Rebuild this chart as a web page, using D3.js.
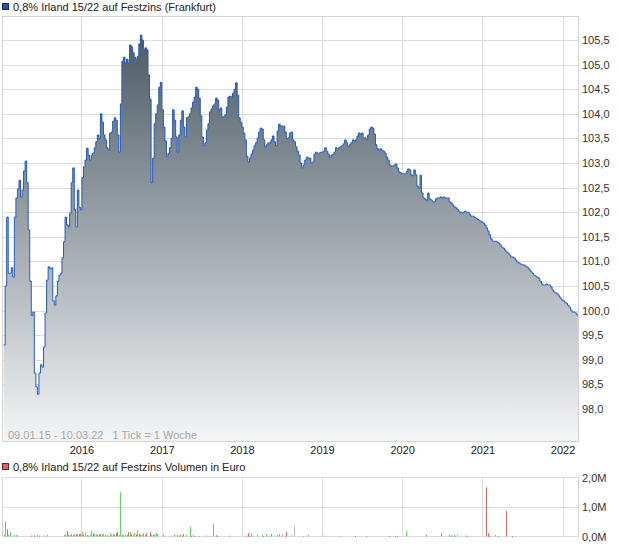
<!DOCTYPE html>
<meta charset="utf-8">
<script src="https://d3js.org/d3.v7.min.js"></script>
<style>
  body { margin: 0; background: #fff; }
  svg { display: block; font-family: Arial, "Liberation Sans", sans-serif; }
</style>
<body>
<div id="chart"></div>
<script>

// weekly closing prices, 09.01.15 - 10.03.22 (1 Tick = 1 Woche)
var startDate = new Date(2015, 0, 9),
    endDate = new Date(2022, 2, 10)

var prices = [
  99.3, 100.5, 101.9, 100.76, 100.76, 100.87, 100.68, 101.9, 102.29, 102.47,
  102.65, 102.31, 102.45, 102.84, 103.04, 102.6, 101.64, 100.6, 99.9, 99.97,
  98.73, 98.45, 98.3, 98.73, 98.9, 98.85, 99.26, 99.95, 100.62, 100.89,
  100.85, 100.87, 100.2, 100.11, 100.3, 100.6, 100.72, 100.75, 101.07, 101.4,
  101.9, 101.74, 101.7, 101.98, 102.6, 102.9, 102.05, 101.7, 102.45, 102.1,
  102.05, 102.7, 102.92, 103.06, 103.3, 103.16, 103.06, 103.16, 103.2, 103.31,
  103.43, 103.57, 103.5, 104.0, 103.83, 103.57, 103.47, 103.31, 103.26, 103.61,
  103.63, 103.85, 103.92, 103.87, 103.57, 103.22, 104.2, 105.07, 105.15, 105.03,
  105.11, 105.03, 105.4, 105.36, 105.24, 105.15, 105.11, 105.17, 105.42, 105.6,
  105.5, 105.3, 105.34, 105.3, 104.79, 104.3, 102.6, 103.1, 103.8, 104.0,
  104.18, 104.54, 104.64, 104.08, 103.73, 103.45, 103.14, 103.2, 103.31, 103.5,
  104.08, 103.87, 103.53, 103.22, 103.57, 103.87, 104.06, 103.73, 103.53, 103.92,
  103.94, 104.0, 104.12, 104.24, 104.34, 104.54, 104.5, 104.32, 103.96, 103.53,
  103.35, 103.41, 103.67, 103.8, 104.04, 104.1, 104.16, 104.2, 104.32, 104.28,
  104.08, 104.12, 103.94, 103.94, 103.98, 104.14, 104.34, 104.36, 104.34, 104.42,
  104.5, 104.63, 104.38, 103.92, 103.83, 103.73, 103.61, 103.47, 103.14, 103.02,
  103.1, 103.18, 103.26, 103.35, 103.41, 103.51, 103.63, 103.71, 103.69, 103.47,
  103.33, 103.37, 103.41, 103.41, 103.47, 103.55, 103.43, 103.35, 103.65, 103.79,
  103.75, 103.75, 103.75, 103.63, 103.49, 103.51, 103.61, 103.63, 103.47, 103.43,
  103.33, 103.24, 103.16, 103.0, 102.9, 102.96, 103.06, 103.12, 103.1, 103.1,
  103.0, 103.02, 103.18, 103.22, 103.2, 103.2, 103.22, 103.22, 103.24, 103.31,
  103.24, 103.18, 103.12, 103.16, 103.18, 103.22, 103.31, 103.29, 103.31, 103.33,
  103.35, 103.39, 103.47, 103.41, 103.33, 103.37, 103.41, 103.47, 103.45, 103.47,
  103.55, 103.61, 103.59, 103.61, 103.51, 103.51, 103.47, 103.57, 103.69, 103.73,
  103.71, 103.59, 103.37, 103.29, 103.26, 103.29, 103.26, 103.24, 103.2, 103.12,
  103.06, 102.96, 102.94, 102.94, 102.96, 102.98, 102.9, 102.82, 102.8, 102.78,
  102.78, 102.78, 102.82, 102.88, 102.86, 102.76, 102.74, 102.86, 102.76, 102.53,
  102.49, 102.75, 102.39, 102.29, 102.27, 102.23, 102.39, 102.27, 102.25, 102.21,
  102.21, 102.27, 102.29, 102.29, 102.31, 102.29, 102.31, 102.29, 102.29, 102.29,
  102.21, 102.19, 102.15, 102.11, 102.09, 102.06, 102.02, 102.0, 101.98, 102.0,
  102.02, 102.0, 102.0, 101.96, 101.92, 101.92, 101.9, 101.88, 101.86, 101.84,
  101.82, 101.8, 101.78, 101.74, 101.68, 101.62, 101.54, 101.46, 101.41, 101.41,
  101.41, 101.39, 101.37, 101.33, 101.29, 101.27, 101.23, 101.19, 101.17, 101.13,
  101.09, 101.09, 101.07, 101.03, 100.99, 100.97, 100.95, 100.93, 100.93, 100.91,
  100.89, 100.87, 100.83, 100.79, 100.76, 100.72, 100.70, 100.68, 100.66, 100.6,
  100.54, 100.52, 100.52, 100.54, 100.52, 100.52, 100.48, 100.42, 100.38, 100.36,
  100.34, 100.3, 100.26, 100.22, 100.2, 100.17, 100.15, 100.11, 100.07, 100.01,
  99.97, 99.97, 99.95, 99.91
]

// volume (Mio Euro): week index, value, direction (u = up, d = down, n = unchanged)
var volWeeks = [0, 1, 2, 3, 4, 7, 8, 9, 18, 20, 22, 23, 26, 28,
  39, 40, 41, 42, 43, 44, 45, 46, 47, 48, 49, 50, 51, 52, 53, 54, 55, 56, 57, 58,
  59, 60, 61, 62, 63, 64, 65, 66, 67, 68, 69, 70, 71, 72, 73, 74, 75, 76, 77, 78,
  79, 80, 81, 82, 83, 84, 85, 86, 87, 88, 89, 90, 91, 92, 93,
  95, 96, 97, 98, 99, 100, 104, 108, 111, 113, 114, 115, 116, 117, 119, 121, 122,
  123, 124, 127, 132, 134, 136, 138, 139, 147, 158, 159, 160, 161, 162, 165, 168,
  169, 171, 172, 174, 178, 179, 181, 183, 184, 187, 189, 195, 198, 208, 219, 229,
  236, 251, 255, 256, 262, 275, 281, 285, 290, 291, 292, 293, 294, 295, 301, 302,
  314, 315, 316, 320, 322, 327, 331, 333]
var volValues = [0.05, 0.52, 0.25, 0.05, 0.15, 0.05, 0.05, 0.03, 0.03, 0.03, 0.05, 0.03, 0.03, 0.05,
  0.05, 0.06, 0.18, 0.05, 0.05, 0.08, 0.05, 0.08, 0.08, 0.08, 0.08, 0.08, 0.14, 0.05, 0.14, 0.05, 0.03, 0.05, 0.18, 0.1,
  0.1, 0.07, 0.05, 0.08, 0.08, 0.08, 0.08, 0.05, 0.05, 0.03, 0.11, 0.05, 0.08, 0.06, 0.11, 0.15, 0.05, 1.5, 0.05, 0.05,
  0.05, 0.05, 0.15, 0.15, 0.08, 0.05, 0.12, 0.07, 0.21, 0.08, 0.05, 0.05, 0.11, 0.06, 0.11,
  0.15, 0.05, 0.05, 0.08, 0.12, 0.08, 0.05, 0.02, 0.05, 0.05, 0.03, 0.08, 0.03, 0.08, 0.05, 0.33, 0.02,
  0.05, 0.02, 0.02, 0.05, 0.03, 0.42, 0.05, 0.02, 0.03, 0.03, 0.11, 0.02, 0.11, 0.03, 0.08, 0.08,
  0.02, 0.08, 0.03, 0.08, 0.05, 0.08, 0.08, 0.03, 0.15, 0.05, 0.35, 0.01, 0.05, 0.03, 0.02, 0.02,
  0.02, 0.02, 0.02, 0.02, 0.18, 0.05, 0.02, 0.11, 0.05, 0.03, 0.03, 0.03, 0.03, 0.05, 0.03, 0.01,
  1.67, 0.11, 0.02, 0.05, 0.02, 0.86, 0.02, 0.01]
var volDirs = ["u", "u", "d", "u", "u", "u", "u", "u", "d", "d", "u", "d", "u", "u",
  "u", "u", "d", "d", "u", "u", "d", "u", "d", "u", "d", "d", "u", "d", "u", "d", "d", "u", "u", "d",
  "u", "u", "d", "d", "d", "u", "u", "d", "u", "d", "u", "u", "d", "u", "d", "d", "u", "u", "u", "d",
  "u", "d", "d", "u", "d", "u", "u", "d", "u", "d", "d", "u", "u", "u", "d",
  "d", "u", "d", "u", "u", "u", "d", "n", "d", "d", "u", "u", "d", "d", "u", "u", "d",
  "u", "u", "u", "n", "n", "u", "u", "d", "d", "d", "d", "u", "u", "u", "u", "n",
  "d", "u", "u", "d", "u", "u", "n", "d", "d", "n", "n", "n", "d", "u", "u", "d",
  "d", "d", "u", "d", "u", "d", "n", "d", "d", "d", "u", "u", "d", "u", "d", "n",
  "d", "d", "d", "u", "d", "d", "d", "n"]

var priceTicks = [98.0, 98.5, 99.0, 99.5, 100.0, 100.5, 101.0, 101.5, 102.0, 102.5, 103.0, 103.5, 104.0, 104.5, 105.0, 105.5]
var volTicks = [0, 1, 2]
var years = [2016, 2017, 2018, 2019, 2020, 2021, 2022]

var title = "0,8% Irland 15/22 auf Festzins (Frankfurt)",
    volTitle = "0,8% Irland 15/22 auf Festzins Volumen in Euro",
    rangeText = "09.01.15 - 10.03.22   1 Tick = 1 Woche"

var width = 620,
    height = 546

var de = d3.formatLocale({decimal: ",", thousands: ".", grouping: [3], currency: ["", " €"]})
var fmt1 = de.format(".1f")

var svg = d3.select("#chart")
  .append("svg")
    .attr("width", width)
    .attr("height", height)

// panels
var main = {left: 2.5, right: 578.5, top: 16.5, bottom: 441.5}
var vol = {left: 2.5, right: 578.5, top: 477.5, bottom: 536.5}

var x = d3.scaleTime()
  .domain([startDate, endDate])
  .range([3.6, 578])

var y = d3.scaleLinear()
  .domain([98, 105.5])
  .range([409, 40])

var yv = d3.scaleLinear()
  .domain([0, 2])
  .range([vol.bottom, vol.top])

var data = prices.map(function(v, i) {
  return {date: d3.timeDay.offset(startDate, 7 * i), value: v}
})
data.push({date: endDate, value: prices[prices.length - 1]})

var defs = svg.append("defs")
var grad = defs.append("linearGradient")
    .attr("id", "fillGrad")
    .attr("gradientUnits", "userSpaceOnUse")
    .attr("x1", 0).attr("y1", main.top)
    .attr("x2", 0).attr("y2", main.bottom)
grad.append("stop").attr("offset", "0%").attr("stop-color", "#45545f")
grad.append("stop").attr("offset", "100%").attr("stop-color", "#f4f5f6")

var gridColor = "#dcdcdc"

// main grid
svg.append("g")
  .selectAll("line")
  .data(priceTicks)
  .enter()
  .append("line")
    .attr("x1", main.left).attr("x2", main.right)
    .attr("y1", function(d) { return Math.round(y(d)) + 0.5 })
    .attr("y2", function(d) { return Math.round(y(d)) + 0.5 })
    .attr("stroke", gridColor)

svg.append("g")
  .selectAll("line")
  .data(years)
  .enter()
  .append("line")
    .attr("x1", function(d) { return Math.floor(x(new Date(d, 0, 1))) + 0.5 })
    .attr("x2", function(d) { return Math.floor(x(new Date(d, 0, 1))) + 0.5 })
    .attr("y1", main.top).attr("y2", main.bottom)
    .attr("stroke", gridColor)

// area + line
var area = d3.area()
  .curve(d3.curveStepAfter)
  .x(function(d) { return x(d.date) })
  .y0(main.bottom)
  .y1(function(d) { return y(d.value) })

var line = d3.line()
  .curve(d3.curveStepAfter)
  .x(function(d) { return x(d.date) })
  .y(function(d) { return y(d.value) })

svg.append("path")
  .datum(data)
  .attr("d", area)
  .attr("fill", "url(#fillGrad)")

svg.append("path")
  .datum(data)
  .attr("d", line)
  .attr("fill", "none")
  .attr("stroke", "#1f5ac8")
  .attr("stroke-width", 1)

svg.append("rect")
  .attr("x", main.left).attr("y", main.top)
  .attr("width", main.right - main.left)
  .attr("height", main.bottom - main.top)
  .attr("fill", "none")
  .attr("stroke", "#d4d4d4")

// y labels
svg.append("g")
  .selectAll("text")
  .data(priceTicks)
  .enter()
  .append("text")
    .attr("x", 582)
    .attr("y", function(d) { return y(d) + 4 })
    .style("font-size", "11px")
    .attr("fill", "#333")
    .text(function(d) { return fmt1(d) })

// year labels
svg.append("g")
  .selectAll("text")
  .data(years)
  .enter()
  .append("text")
    .attr("x", function(d) { return x(new Date(d, 0, 1)) })
    .attr("y", 454)
    .attr("text-anchor", "middle")
    .style("font-size", "11px")
    .attr("fill", "#222")
    .text(function(d) { return d })

svg.append("text")
  .attr("x", 8)
  .attr("y", 439)
  .style("font-size", "11px")
  .attr("fill", "#a8a8a8")
  .attr("xml:space", "preserve")
  .style("white-space", "pre")
  .text(rangeText)

// legends
svg.append("rect")
  .attr("x", 2.5).attr("y", 3.5).attr("width", 6).attr("height", 6)
  .attr("fill", "#2452b4").attr("stroke", "#1a2c5c")
svg.append("text")
  .attr("x", 13).attr("y", 10.5)
  .style("font-size", "11px").attr("fill", "#222")
  .text(title)

svg.append("rect")
  .attr("x", 2.5).attr("y", 463.5).attr("width", 6).attr("height", 6)
  .attr("fill", "#d96262").attr("stroke", "#5c2a2a")
svg.append("text")
  .attr("x", 13).attr("y", 470.5)
  .style("font-size", "11px").attr("fill", "#222")
  .text(volTitle)

// volume panel
svg.append("g")
  .selectAll("line")
  .data(volTicks)
  .enter()
  .append("line")
    .attr("x1", vol.left).attr("x2", vol.right)
    .attr("y1", function(d) { return Math.round(yv(d) - 0.5) + 0.5 })
    .attr("y2", function(d) { return Math.round(yv(d) - 0.5) + 0.5 })
    .attr("stroke", gridColor)

svg.append("g")
  .selectAll("line")
  .data(years)
  .enter()
  .append("line")
    .attr("x1", function(d) { return Math.floor(x(new Date(d, 0, 1))) + 0.5 })
    .attr("x2", function(d) { return Math.floor(x(new Date(d, 0, 1))) + 0.5 })
    .attr("y1", vol.top).attr("y2", vol.bottom)
    .attr("stroke", gridColor)

svg.append("line")
  .attr("x1", vol.left).attr("x2", vol.left)
  .attr("y1", vol.top).attr("y2", vol.bottom)
  .attr("stroke", "#d4d4d4")
svg.append("line")
  .attr("x1", vol.right).attr("x2", vol.right)
  .attr("y1", vol.top).attr("y2", vol.bottom)
  .attr("stroke", "#d4d4d4")

var dirColor = {u: "#5cd65c", d: "#e06464", n: "#b8b8b8"}

svg.append("g")
  .selectAll("rect")
  .data(volWeeks)
  .enter()
  .append("rect")
    .attr("x", function(d) { return Math.round(x(d3.timeDay.offset(startDate, 7 * d))) })
    .attr("width", 1)
    .attr("y", function(d, i) { return yv(volValues[i]) })
    .attr("height", function(d, i) { return Math.max(1, yv(0) - yv(volValues[i])) })
    .attr("fill", function(d, i) { return dirColor[volDirs[i]] })

svg.append("g")
  .selectAll("text")
  .data(volTicks)
  .enter()
  .append("text")
    .attr("x", 582)
    .attr("y", function(d) { return yv(d) + 4 })
    .style("font-size", "11px")
    .attr("fill", "#333")
    .text(function(d) { return fmt1(d) + "M" })

</script>
</body>
